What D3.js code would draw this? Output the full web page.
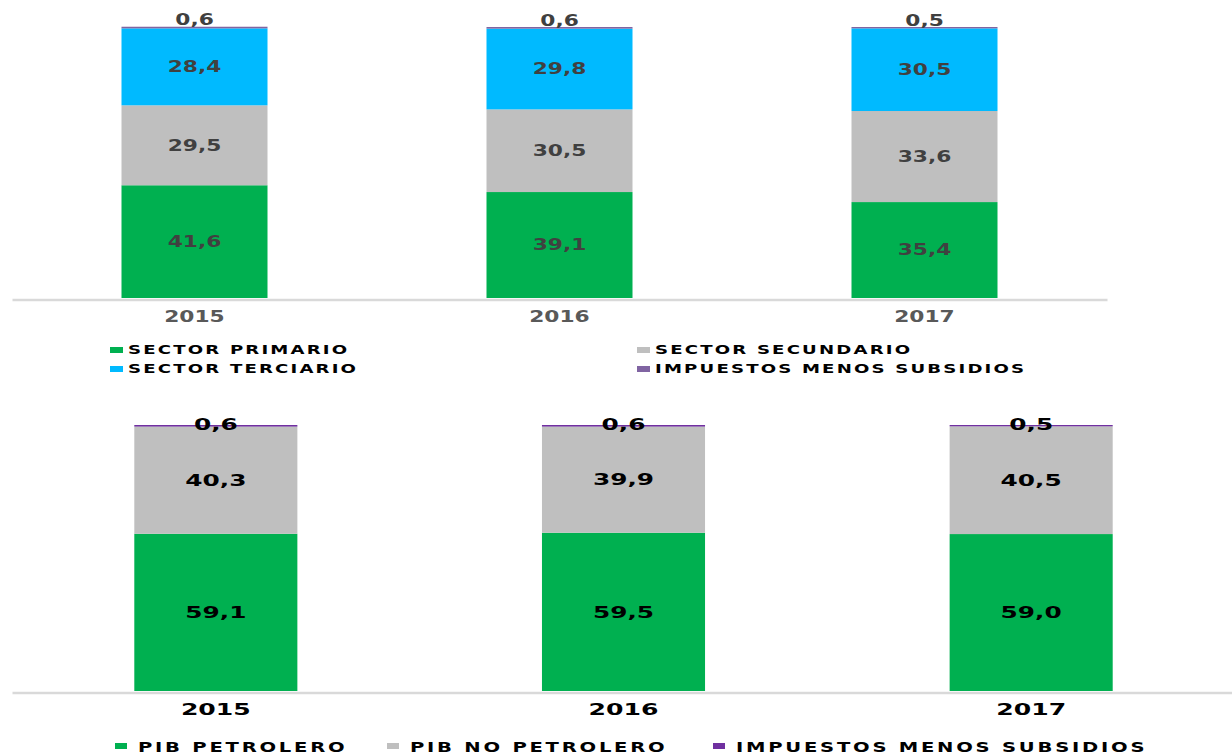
<!DOCTYPE html>
<html>
<head>
<meta charset="utf-8">
<script src="https://cdn.jsdelivr.net/npm/d3@7"></script>
<style>
  body { margin: 0; background: #fff; }
  svg { display: block; font-family: "DejaVu Sans", Verdana, sans-serif; font-weight: bold; }
</style>
</head>
<body>
<div id="chart"></div>
<script>
// data
var years = ["2015", "2016", "2017"];

// top chart: sectors
var primario = [41.6, 39.1, 35.4];
var secundario = [29.5, 30.5, 33.6];
var terciario = [28.4, 29.8, 30.5];
var impuestosTop = [0.6, 0.6, 0.5];
var topNames = ["SECTOR PRIMARIO", "SECTOR SECUNDARIO", "SECTOR TERCIARIO", "IMPUESTOS MENOS SUBSIDIOS"];

// bottom chart: oil / non-oil
var petrolero = [59.1, 59.5, 59.0];
var noPetrolero = [40.3, 39.9, 40.5];
var impuestosBottom = [0.6, 0.6, 0.5];
var bottomNames = ["PIB PETROLERO", "PIB NO PETROLERO", "IMPUESTOS MENOS SUBSIDIOS"];

var locale = d3.formatLocale({ decimal: ",", thousands: ".", grouping: [3], currency: ["", ""] });
var fmt = locale.format(".1f");

var svg = d3.select("#chart")
  .append("svg")
  .attr("width", 1232)
  .attr("height", 752);

function drawChart(opt) {
  var rows = years.map(function(y, i) {
    var r = { year: y };
    opt.keys.forEach(function(k, j) { r[k] = opt.series[j][i]; });
    return r;
  });

  var x = d3.scaleBand()
    .domain(years)
    .range(opt.xRange)
    .paddingInner(0.6)
    .paddingOuter(0.3);

  var y = d3.scaleLinear()
    .domain([0, 100])
    .range(opt.yRange);

  var stacked = d3.stack().keys(opt.keys)(rows);

  var g = svg.append("g");

  // axis (line + year labels)
  var axis = g.append("g")
    .attr("transform", "translate(0," + (y(0) + 1.5) + ")")
    .call(d3.axisBottom(x).tickSize(0).tickSizeOuter(0));
  axis.select(".domain").attr("stroke", "#d9d9d9").attr("stroke-width", 2.5);
  axis.selectAll("text")
    .attr("y", null).attr("dy", null)
    .attr("fill", opt.catColor)
    .style("font-size", opt.catSize + "px")
    .style("font-family", "DejaVu Sans")
    .style("font-weight", "bold")
    .attr("transform", "translate(0," + opt.catOffset + ") scale(" + opt.catStretch + ",1)");

  // bars
  var layer = g.selectAll(".layer")
    .data(stacked).enter().append("g")
    .attr("class", "layer")
    .attr("fill", function(d, i) { return opt.colors[i]; });

  layer.selectAll("rect")
    .data(function(d) { return d; })
    .enter().append("rect")
    .attr("x", function(d) { return x(d.data.year); })
    .attr("width", x.bandwidth())
    .attr("y", function(d) { return y(d[1]); })
    .attr("height", function(d) { return y(d[0]) - y(d[1]); });

  // value labels
  stacked.forEach(function(s, si) {
    var last = si === stacked.length - 1;
    g.selectAll(".lbl" + si)
      .data(s).enter().append("text")
      .attr("text-anchor", "middle")
      .attr("fill", opt.labelColor)
      .style("font-size", opt.labelSize + "px")
      .attr("dy", last ? opt.lastDy : "0.36em")
      .attr("transform", function(d) {
        var cx = x(d.data.year) + x.bandwidth() / 2;
        var cy = last ? y(d[1]) : (y(d[0]) + y(d[1])) / 2;
        return "translate(" + cx + "," + cy + ") scale(" + opt.labelStretch + ",1)";
      })
      .text(function(d) { return fmt(d[1] - d[0]); });
  });

  // legend
  var leg = g.selectAll(".leg")
    .data(opt.names).enter().append("g")
    .attr("class", "leg")
    .attr("transform", function(d, i) { return "translate(" + opt.legPos[i][0] + "," + opt.legPos[i][1] + ")"; });

  leg.append("rect")
    .attr("x", 0).attr("y", opt.markY)
    .attr("width", opt.markW).attr("height", 6)
    .attr("fill", function(d, i) { return opt.colors[i]; });

  leg.append("text")
    .attr("fill", "#000")
    .style("font-size", opt.legSize + "px")
    .style("letter-spacing", opt.legSpacing + "px")
    .attr("transform", "translate(" + opt.legTextX + ",0) scale(1.45,1)")
    .text(function(d) { return d; });
}

drawChart({
  keys: ["primario", "secundario", "terciario", "impuestos"],
  series: [primario, secundario, terciario, impuestosTop],
  names: topNames,
  colors: ["#00b050", "#bfbfbf", "#00baff", "#8064a2"],
  xRange: [12, 1107],
  yRange: [298, 27],
  catColor: "#595959", catSize: 15, catStretch: 1.45, catOffset: 22.5,
  labelColor: "#404040", labelSize: 15, labelStretch: 1.45, lastDy: "-0.1em",
  legPos: [[110, 354], [637, 354], [110, 373], [637, 373]],
  markY: -7, markW: 13, legTextX: 18, legSize: 12.5, legSpacing: 1.5
});

drawChart({
  keys: ["petrolero", "noPetrolero", "impuestos"],
  series: [petrolero, noPetrolero, impuestosBottom],
  names: bottomNames,
  colors: ["#00b050", "#bfbfbf", "#7030a0"],
  xRange: [12, 1235],
  yRange: [691, 425],
  catColor: "#000", catSize: 16, catStretch: 1.57, catOffset: 22,
  labelColor: "#000", labelSize: 16, labelStretch: 1.55, lastDy: "0.33em",
  legPos: [[115, 752], [387, 752], [713, 752]],
  markY: -9, markW: 12, legTextX: 23, legSize: 13.5, legSpacing: 1.9
});
</script>
</body>
</html>
